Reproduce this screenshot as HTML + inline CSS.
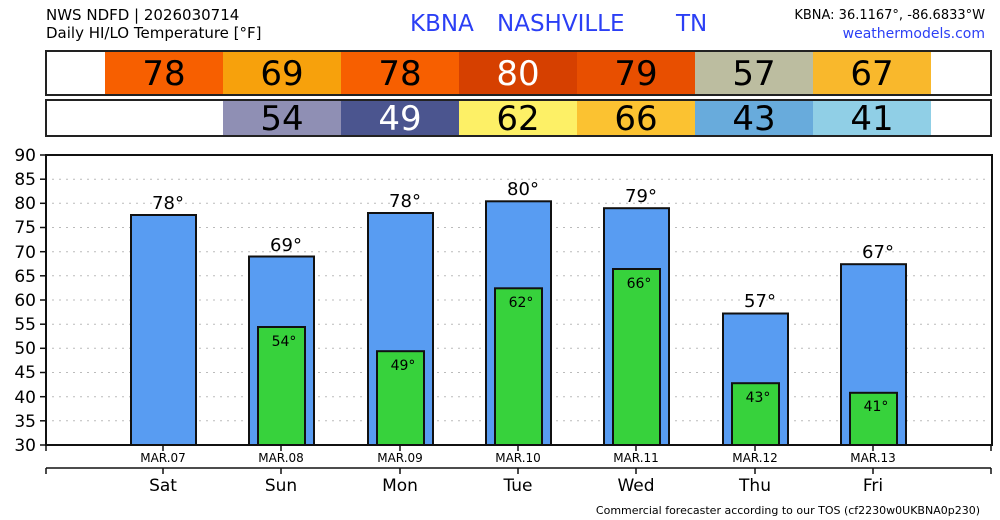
<!DOCTYPE html>
<html><head><meta charset="utf-8"><style>body{margin:0;background:#fff}svg{display:block;font-family:"DejaVu Sans","Liberation Sans",sans-serif}</style></head>
<body>
<svg width="1000" height="520" xmlns="http://www.w3.org/2000/svg">
<text x="46" y="20" font-size="15">NWS NDFD | 2026030714</text>
<text x="46" y="38" font-size="15">Daily HI/LO Temperature [°F]</text>
<text x="410" y="31" font-size="23" fill="#2b3ff5">KBNA</text>
<text x="497" y="31" font-size="23" fill="#2b3ff5">NASHVILLE</text>
<text x="676" y="31" font-size="23" fill="#2b3ff5">TN</text>
<text x="985" y="19" font-size="13" text-anchor="end">KBNA: 36.1167°, -86.6833°W</text>
<text x="985" y="38" font-size="14" text-anchor="end" fill="#2b3ff5">weathermodels.com</text>
<g font-size="34" text-anchor="middle">
<rect x="105" y="51" width="118" height="44" fill="#f75f00"/><text x="164" y="85">78</text>
<rect x="223" y="51" width="118" height="44" fill="#f7a10c"/><text x="282" y="85">69</text>
<rect x="341" y="51" width="118" height="44" fill="#f75f00"/><text x="400" y="85">78</text>
<rect x="459" y="51" width="118" height="44" fill="#d64000"/><text x="518" y="85" fill="#fff">80</text>
<rect x="577" y="51" width="118" height="44" fill="#e84f00"/><text x="636" y="85">79</text>
<rect x="695" y="51" width="118" height="44" fill="#bcbda0"/><text x="754" y="85">57</text>
<rect x="813" y="51" width="118" height="44" fill="#f9b82c"/><text x="872" y="85">67</text>
<rect x="46" y="51" width="945" height="44" fill="none" stroke="#222" stroke-width="2"/>
<rect x="223" y="100" width="118" height="36" fill="#8f8fb4"/><text x="282" y="130">54</text>
<rect x="341" y="100" width="118" height="36" fill="#4b558f"/><text x="400" y="130" fill="#fff">49</text>
<rect x="459" y="100" width="118" height="36" fill="#fdf066"/><text x="518" y="130">62</text>
<rect x="577" y="100" width="118" height="36" fill="#fbc231"/><text x="636" y="130">66</text>
<rect x="695" y="100" width="118" height="36" fill="#68abdc"/><text x="754" y="130">43</text>
<rect x="813" y="100" width="118" height="36" fill="#90cfe6"/><text x="872" y="130">41</text>
<rect x="46" y="100" width="945" height="36" fill="none" stroke="#222" stroke-width="2"/>
</g>
<g stroke="#bbb" stroke-dasharray="2,5" stroke-width="1">
<line x1="52" x2="990" y1="179.2" y2="179.2"/><line x1="52" x2="990" y1="203.3" y2="203.3"/><line x1="52" x2="990" y1="227.5" y2="227.5"/><line x1="52" x2="990" y1="251.7" y2="251.7"/><line x1="52" x2="990" y1="275.8" y2="275.8"/><line x1="52" x2="990" y1="300" y2="300"/><line x1="52" x2="990" y1="324.2" y2="324.2"/><line x1="52" x2="990" y1="348.3" y2="348.3"/><line x1="52" x2="990" y1="372.5" y2="372.5"/><line x1="52" x2="990" y1="396.7" y2="396.7"/><line x1="52" x2="990" y1="420.8" y2="420.8"/>
</g>
<g stroke="#111" stroke-width="2">
<rect x="131" y="215" width="65" height="230" fill="#589cf2"/>
<rect x="249" y="256.5" width="65" height="188.5" fill="#589cf2"/>
<rect x="368" y="213" width="65" height="232" fill="#589cf2"/>
<rect x="486" y="201.3" width="65" height="243.7" fill="#589cf2"/>
<rect x="604" y="208.2" width="65" height="236.8" fill="#589cf2"/>
<rect x="723" y="313.5" width="65" height="131.5" fill="#589cf2"/>
<rect x="841" y="264.2" width="65" height="180.8" fill="#589cf2"/>
<rect x="258" y="327" width="47" height="118" fill="#37d23c"/>
<rect x="377" y="351.2" width="47" height="93.8" fill="#37d23c"/>
<rect x="495" y="288.3" width="47" height="156.7" fill="#37d23c"/>
<rect x="613" y="269" width="47" height="176" fill="#37d23c"/>
<rect x="732" y="383.2" width="47" height="61.8" fill="#37d23c"/>
<rect x="850" y="392.8" width="47" height="52.2" fill="#37d23c"/>
</g>
<g font-size="18" text-anchor="middle">
<text x="168" y="209">78°</text><text x="286" y="251">69°</text><text x="405" y="207">78°</text><text x="523" y="195">80°</text><text x="641" y="202">79°</text><text x="760" y="307">57°</text><text x="878" y="258">67°</text>
</g>
<g font-size="14" text-anchor="middle">
<text x="284" y="346">54°</text><text x="403" y="370">49°</text><text x="521" y="307">62°</text><text x="639" y="288">66°</text><text x="758" y="402">43°</text><text x="876" y="411">41°</text>
</g>
<rect x="46" y="155" width="946" height="290" fill="none" stroke="#111" stroke-width="2"/>
<g font-size="17" text-anchor="end">
<text x="36" y="161">90</text><text x="36" y="185">85</text><text x="36" y="209">80</text><text x="36" y="233">75</text><text x="36" y="258">70</text><text x="36" y="282">65</text><text x="36" y="306">60</text><text x="36" y="330">55</text><text x="36" y="354">50</text><text x="36" y="378">45</text><text x="36" y="403">40</text><text x="36" y="427">35</text><text x="36" y="451">30</text>
</g>
<g stroke="#111" stroke-width="1.5">
<line x1="40" x2="46" y1="155" y2="155"/><line x1="40" x2="46" y1="179.2" y2="179.2"/><line x1="40" x2="46" y1="203.3" y2="203.3"/><line x1="40" x2="46" y1="227.5" y2="227.5"/><line x1="40" x2="46" y1="251.7" y2="251.7"/><line x1="40" x2="46" y1="275.8" y2="275.8"/><line x1="40" x2="46" y1="300" y2="300"/><line x1="40" x2="46" y1="324.2" y2="324.2"/><line x1="40" x2="46" y1="348.3" y2="348.3"/><line x1="40" x2="46" y1="372.5" y2="372.5"/><line x1="40" x2="46" y1="396.7" y2="396.7"/><line x1="40" x2="46" y1="420.8" y2="420.8"/><line x1="40" x2="46" y1="445" y2="445"/>
<line x1="46" x2="46" y1="445" y2="451"/><line x1="163" x2="163" y1="445" y2="451"/><line x1="281" x2="281" y1="445" y2="451"/><line x1="400" x2="400" y1="445" y2="451"/><line x1="518" x2="518" y1="445" y2="451"/><line x1="636" x2="636" y1="445" y2="451"/><line x1="755" x2="755" y1="445" y2="451"/><line x1="873" x2="873" y1="445" y2="451"/><line x1="991" x2="991" y1="445" y2="451"/>
<line x1="46" x2="991" y1="468" y2="468"/>
<line x1="46" x2="46" y1="468" y2="474"/><line x1="163" x2="163" y1="468" y2="474"/><line x1="281" x2="281" y1="468" y2="474"/><line x1="400" x2="400" y1="468" y2="474"/><line x1="518" x2="518" y1="468" y2="474"/><line x1="636" x2="636" y1="468" y2="474"/><line x1="755" x2="755" y1="468" y2="474"/><line x1="873" x2="873" y1="468" y2="474"/><line x1="991" x2="991" y1="468" y2="474"/>
</g>
<g font-size="12" text-anchor="middle">
<text x="163" y="462">MAR.07</text><text x="281" y="462">MAR.08</text><text x="400" y="462">MAR.09</text><text x="518" y="462">MAR.10</text><text x="636" y="462">MAR.11</text><text x="755" y="462">MAR.12</text><text x="873" y="462">MAR.13</text>
</g>
<g font-size="17" text-anchor="middle">
<text x="163" y="491">Sat</text><text x="281" y="491">Sun</text><text x="400" y="491">Mon</text><text x="518" y="491">Tue</text><text x="636" y="491">Wed</text><text x="755" y="491">Thu</text><text x="873" y="491">Fri</text>
</g>
<text x="980" y="514" font-size="11" text-anchor="end">Commercial forecaster according to our TOS (cf2230w0UKBNA0p230)</text>
</svg>
</body></html>
